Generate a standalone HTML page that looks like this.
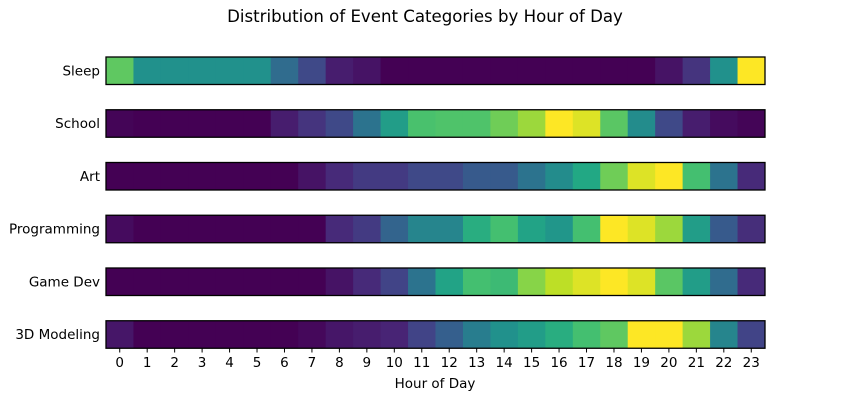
<!DOCTYPE html>
<html><head><meta charset="utf-8"><style>
body{margin:0;background:#fff;}
svg text{font-family:"DejaVu Sans","Liberation Sans",sans-serif;fill:#000;}
</style></head><body>
<svg id="chart" width="850" height="400">
<text x="425" y="22" text-anchor="middle" font-size="16.6">Distribution of Event Categories by Hour of Day</text>
<g id="rows"></g>
<g id="xaxis"></g>
<text x="435" y="388" text-anchor="middle" font-size="13.5">Hour of Day</text>
</svg>
<script>
const categories=["Sleep","School","Art","Programming","Game Dev","3D Modeling"];
const hours=[0,1,2,3,4,5,6,7,8,9,10,11,12,13,14,15,16,17,18,19,20,21,22,23];
const sleepVals=[0.75,0.5,0.5,0.5,0.5,0.5,0.35,0.22,0.08,0.05,0,0,0,0,0,0,0,0,0,0,0.05,0.15,0.5,1];
const schoolVals=[0.01,0,0,0,0,0,0.08,0.15,0.22,0.38,0.55,0.71,0.72,0.72,0.78,0.85,1,0.95,0.74,0.48,0.22,0.08,0.03,0.01];
const artVals=[0,0,0,0,0,0,0,0.05,0.12,0.17,0.17,0.22,0.22,0.28,0.28,0.38,0.48,0.6,0.78,0.95,1,0.7,0.38,0.12];
const progVals=[0.03,0,0,0,0,0,0,0,0.12,0.17,0.32,0.45,0.45,0.62,0.7,0.58,0.52,0.7,1,0.95,0.85,0.55,0.28,0.13];
const gameVals=[0,0,0,0,0,0,0,0,0.05,0.12,0.2,0.38,0.58,0.7,0.68,0.82,0.9,0.95,1,0.95,0.74,0.55,0.35,0.12];
const modelVals=[0.06,0,0,0,0,0,0,0.02,0.06,0.08,0.1,0.2,0.3,0.42,0.5,0.55,0.62,0.7,0.75,1,1,0.85,0.45,0.2];
const series=[sleepVals,schoolVals,artVals,progVals,gameVals,modelVals];

const NS="http://www.w3.org/2000/svg";
const stops=["#440154","#482475","#414487","#355f8d","#2a788e","#21918c","#22a884","#44bf70","#7ad151","#bddf26","#fde725"];
function viridis(t){t=Math.max(0,Math.min(1,t));const p=t*10,i=Math.min(9,Math.floor(p)),f=p-i;
const a=stops[i],b=stops[i+1];const c=k=>Math.round(parseInt(a.substr(k,2),16)*(1-f)+parseInt(b.substr(k,2),16)*f);
return `rgb(${c(1)},${c(3)},${c(5)})`;}
const x0=106,x1=765,cw=(x1-x0)/hours.length;
const xScale=h=>x0+h*cw;
const rowTop=i=>57+i*52.75,rh=27.5;
const rows=document.getElementById('rows');
categories.forEach((cat,i)=>{
  const g=document.createElementNS(NS,'g');
  
  
  series[i].forEach((v,h)=>{
    const r=document.createElementNS(NS,'rect');
    r.setAttribute('x',xScale(h));r.setAttribute('y',rowTop(i));
    r.setAttribute('width',cw+0.5);r.setAttribute('height',rh);
    r.setAttribute('fill',viridis(v));
    
    
    g.appendChild(r);
  });
  const b=document.createElementNS(NS,'rect');
  b.setAttribute('x',x0);b.setAttribute('y',rowTop(i));b.setAttribute('width',x1-x0);b.setAttribute('height',rh);
  b.setAttribute('fill','none');b.setAttribute('stroke','#000');b.setAttribute('stroke-width','1.3');
  g.appendChild(b);
  const t=document.createElementNS(NS,'text');
  t.setAttribute('x',100);t.setAttribute('y',rowTop(i)+rh/2+4.5);t.setAttribute('text-anchor','end');t.setAttribute('font-size','13.5');
  t.textContent=cat;
  
  
  g.appendChild(t);
  rows.appendChild(g);
});
const xa=document.getElementById('xaxis');
hours.forEach(h=>{
  const cx=xScale(h)+cw/2;
  const l=document.createElementNS(NS,'line');
  l.setAttribute('x1',cx);l.setAttribute('x2',cx);l.setAttribute('y1',348);l.setAttribute('y2',352.5);l.setAttribute('stroke','#000');
  
  
  xa.appendChild(l);
  const t=document.createElementNS(NS,'text');
  t.setAttribute('x',cx);t.setAttribute('y',367);t.setAttribute('text-anchor','middle');t.setAttribute('font-size','13.5');
  t.textContent=h;
  
  
  xa.appendChild(t);
});
</script>
</body></html>
